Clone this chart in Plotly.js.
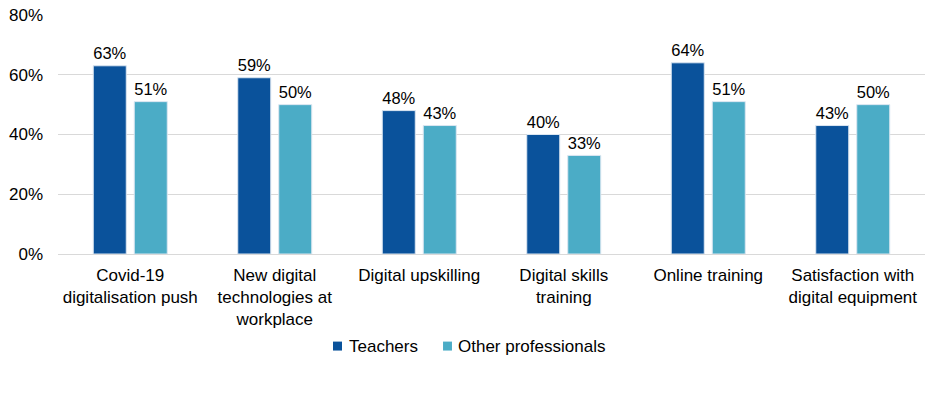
<!DOCTYPE html>
<html><head><meta charset="utf-8">
<script src="https://cdn.plot.ly/plotly-3.0.1.min.js"></script>
<style>html,body{margin:0;padding:0;background:#fff}#chart{width:937px;height:402px}</style>
</head><body><div id="chart"></div>
<script>
const categories = ["Covid-19<br>digitalisation push", "New digital<br>technologies at<br>workplace", "Digital upskilling", "Digital skills<br>training", "Online training", "Satisfaction with<br>digital equipment"];
const teachers = [63, 59, 48, 40, 64, 43];
const otherProfessionals = [51, 50, 43, 33, 51, 50];
const seriesNames = ["Teachers", "Other professionals"];
const seriesColors = ["#0A529B", "#4BACC6"];
const yTicks = [0, 20, 40, 60, 80];
const yTickText = ["0%", "20%", "40%", "60%", "80%"];

const font = {family: "Liberation Sans, Arial, sans-serif", size: 17, color: "#000"};
function mk(name, vals, color) {
  return {type: "bar", name: name, x: categories, y: vals,
    marker: {color: color, line: {color: "#dbe6f1", width: 1}},
    text: vals.map(v => v + "%"), textposition: "outside", cliponaxis: false,
    textfont: font, hoverinfo: "none", showlegend: false};
}
const data = [mk(seriesNames[0], teachers, seriesColors[0]), mk(seriesNames[1], otherProfessionals, seriesColors[1])];

// custom legend (small squares, tight text gap)
const legSq = [[0.3172, 0.3276], [0.4441, 0.4544]];
const legTx = [0.3333, 0.4591];
const shapes = legSq.map((s, i) => ({type: "rect", xref: "paper", yref: "paper", x0: s[0], x1: s[1], y0: -0.404, y1: -0.3665,
  fillcolor: seriesColors[i], line: {width: 0}}));
const annotations = legTx.map((x, i) => ({xref: "paper", yref: "paper", x: x, y: -0.3854, xanchor: "left", yanchor: "middle",
  text: seriesNames[i], showarrow: false, font: font}));

const layout = {
  width: 937, height: 402,
  margin: {l: 58, r: 12, t: 14.5, b: 147.5},
  paper_bgcolor: "#fff", plot_bgcolor: "#fff",
  font: font,
  barmode: "group", bargap: 0.4325, bargroupgap: 0.195,
  showlegend: false,
  shapes: shapes, annotations: annotations,
  xaxis: {tickfont: font, showgrid: false, showline: false, ticks: "", automargin: false, ticklabelstandoff: 9},
  yaxis: {range: [0, 80], tickmode: "array", tickvals: yTicks, ticktext: yTickText, tickfont: font, showgrid: true, gridcolor: "#d9d9d9", gridwidth: 1,
    zeroline: true, zerolinecolor: "#d9d9d9", zerolinewidth: 1, showline: false, ticks: "", ticklabelstandoff: 14, automargin: false}
};
Plotly.newPlot("chart", data, layout, {displayModeBar: false, staticPlot: true});
</script></body></html>
